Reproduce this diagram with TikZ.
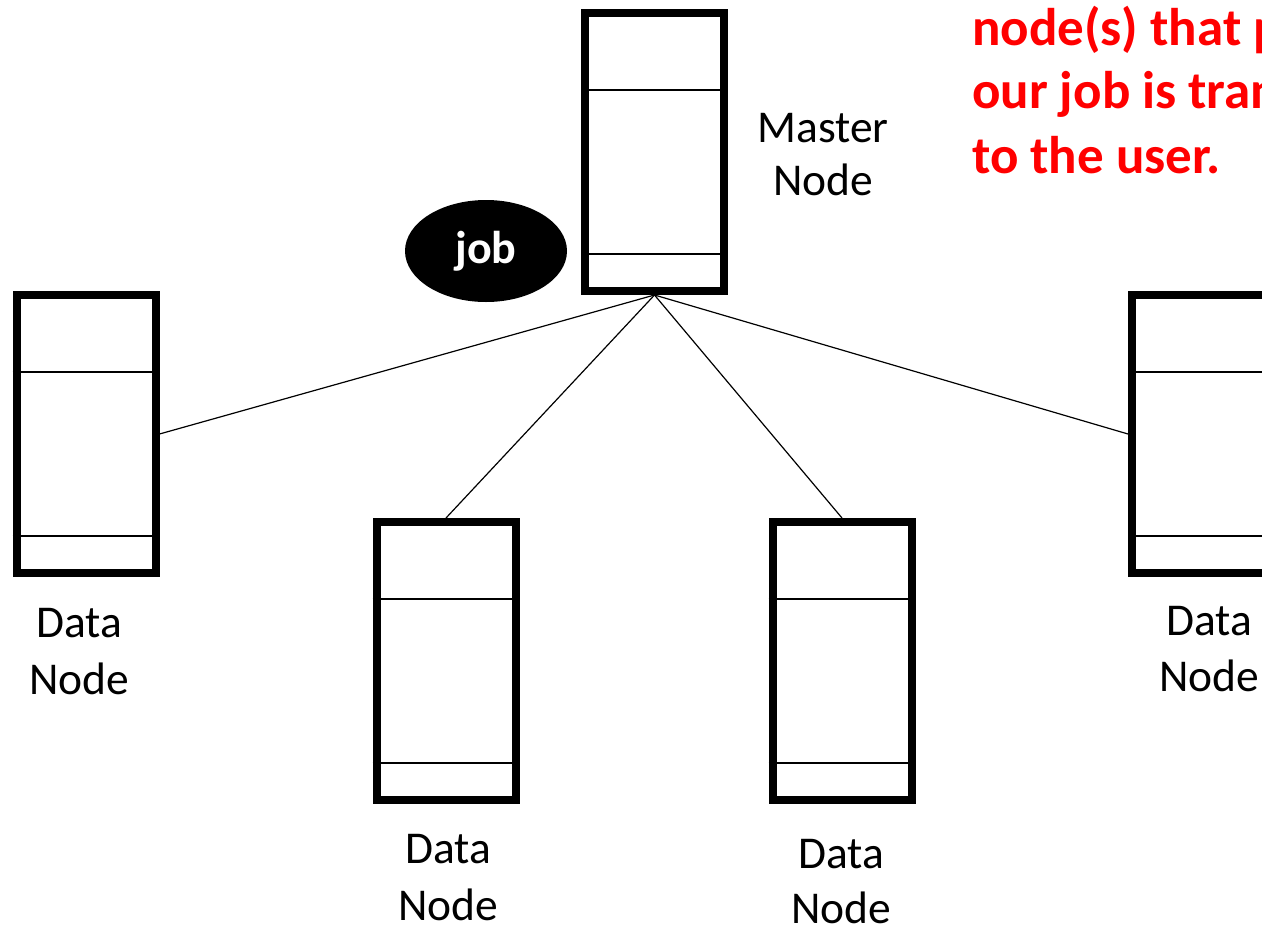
\documentclass[tikz,border=0pt]{standalone}
\usepackage{fontspec}
\setmainfont{Carlito}
\usetikzlibrary{shapes.geometric}

\tikzset{
  server/.style={draw, fill=white, line width=8pt, inner sep=0pt,
    minimum width=139pt, minimum height=278pt},
  divider/.style={line width=1.2pt},
  link/.style={line width=1.2pt},
  lbl/.style={anchor=base, inner sep=0pt, font=\fontsize{45.5}{53}\selectfont},
  note/.style={anchor=base west, inner sep=0pt, text=red,
    font=\fontsize{53}{64}\selectfont\bfseries}
}

\begin{document}
\begin{tikzpicture}[x=1pt, y=-1pt]
  \useasboundingbox (0,0) rectangle (1262,930);
  \clip (0,0) rectangle (1262,930);

  % servers: one master and four data nodes
  \node[server] (m)  at (654.5,152) {};
  \node[server] (dl) at (86,434)    {};
  \node[server] (d2) at (446,661)   {};
  \node[server] (d3) at (842,661)   {};
  \node[server] (dr) at (1201.5,434){};

  % horizontal dividers inside each server
  \foreach \s in {m,dl,d2,d3,dr}{
    \draw[divider] ([yshift=-81pt]\s.north west) -- ([yshift=-81pt]\s.north east);
    \draw[divider] ([yshift=41pt]\s.south west) -- ([yshift=41pt]\s.south east);
  }

  % links from the master to the data nodes
  \draw[link] (m.south) -- (dl.east);
  \draw[link] (m.south) -- (d2.north);
  \draw[link] (m.south) -- (d3.north);
  \draw[link] (m.south) -- (dr.west);

  % the job token
  \node[ellipse, fill=black, minimum width=162pt, minimum height=102pt,
        inner sep=0pt, text=white, font=\fontsize{46}{54}\selectfont\bfseries]
        (job) at (486,251) {\raisebox{-3pt}{job}};

  % labels
  \node[lbl] (mla) at (823,142) {Master};
  \node[lbl] (mlb) at (823,195) {Node};
  \node[lbl] (dla) at (79,637)  {Data};
  \node[lbl] (dlb) at (79,694)  {Node};
  \node[lbl] (d2a) at (448.5,863) {Data};
  \node[lbl] (d2b) at (448.5,920) {Node};
  \node[lbl] (d3a) at (841,868) {Data};
  \node[lbl] (d3b) at (841,923) {Node};
  \node[lbl] (dra) at (1209,635) {Data};
  \node[lbl] (drb) at (1209,691) {Node};

  % note in red
  \node[note] (n1) at (972,45)  {node(s) that p};
  \node[note] (n2) at (972,108) {our job is tran};
  \node[note] (n3) at (972,173) {to the user.};
\end{tikzpicture}
\end{document}
